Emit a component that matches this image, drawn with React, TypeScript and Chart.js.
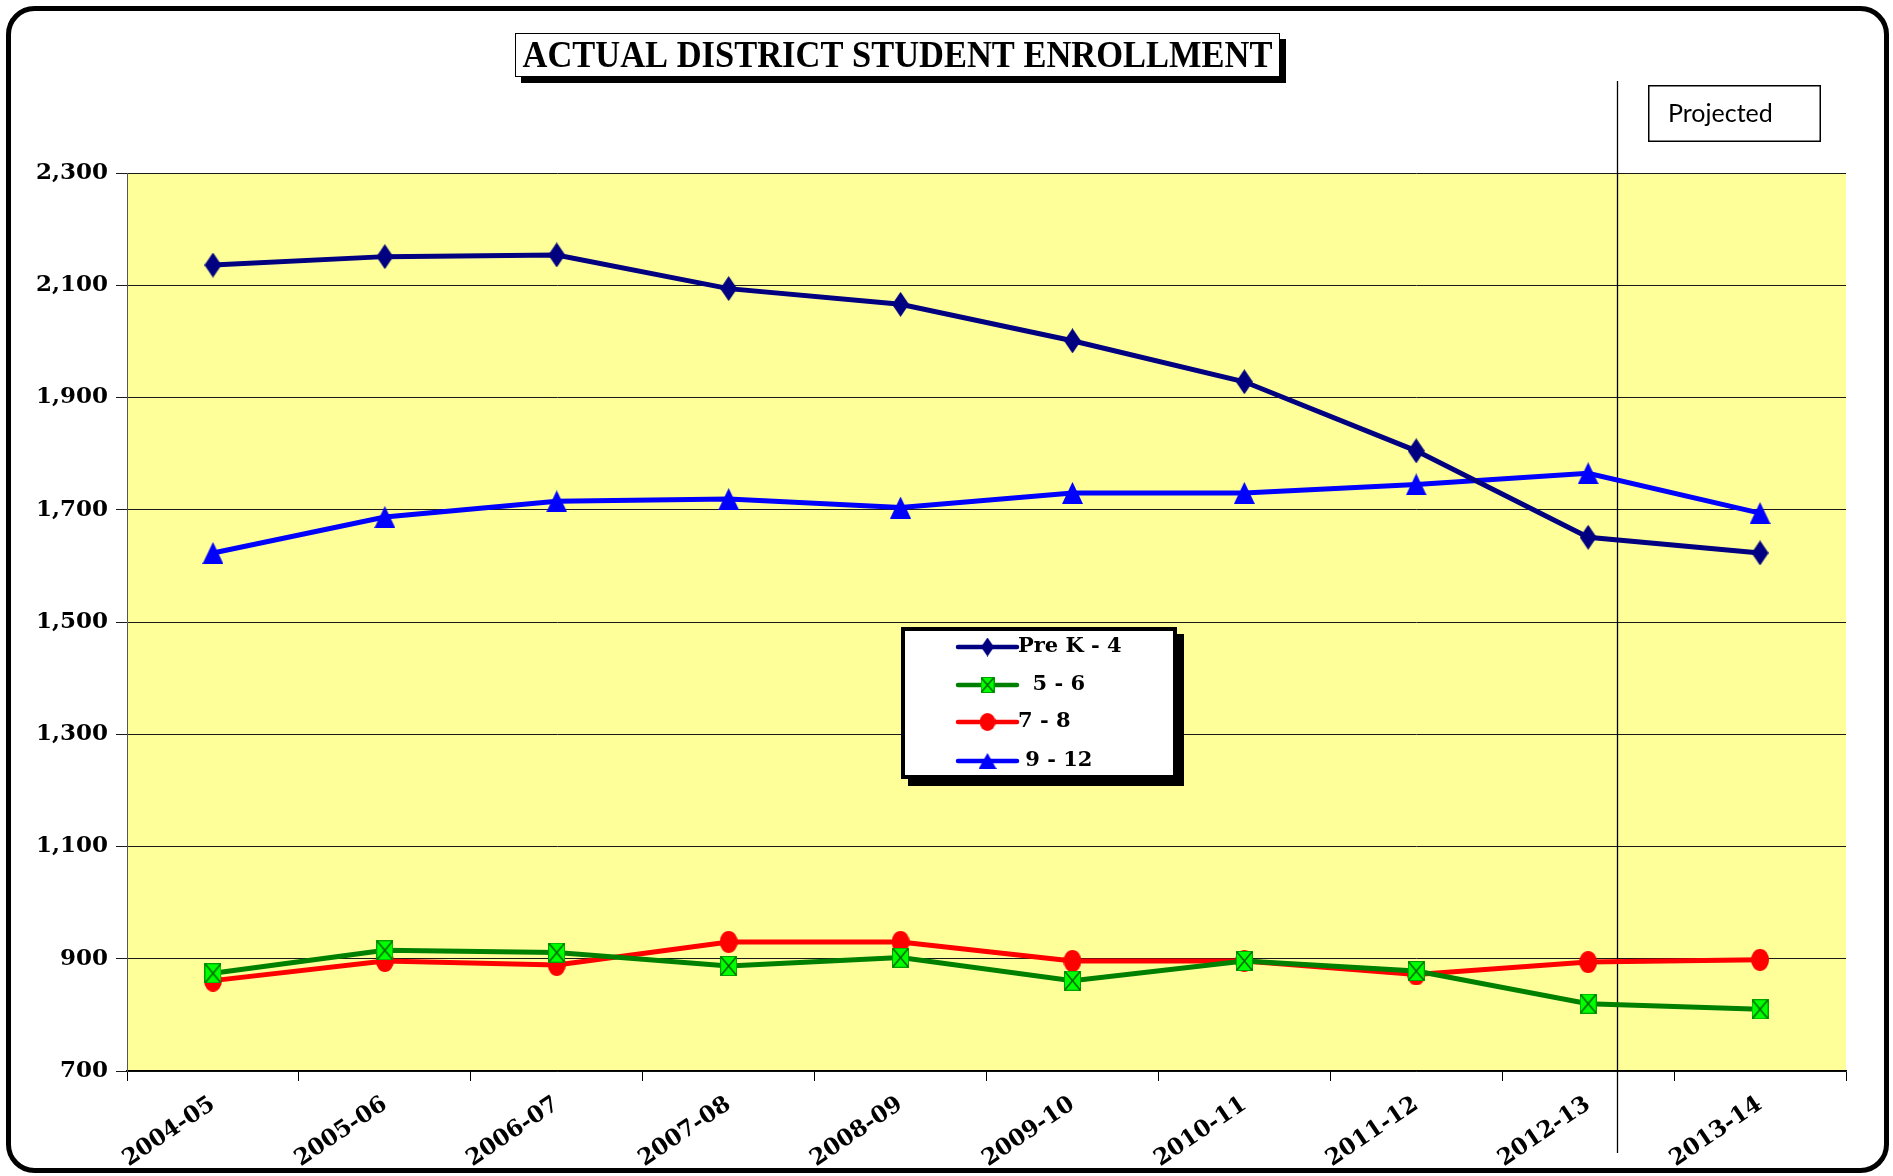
import React, { useEffect, useRef } from 'react';
import { Chart, registerables } from 'chart.js';
Chart.register(...registerables);

const categories = ['2004-05', '2005-06', '2006-07', '2007-08', '2008-09', '2009-10', '2010-11', '2011-12', '2012-13', '2013-14'];
const preK4 = [2136, 2151, 2154, 2094, 2066, 2001, 1928, 1805, 1651, 1623];
const grade56 = [874, 915, 911, 887, 902, 861, 896, 878, 820, 810];
const grade78 = [861, 896, 889, 930, 930, 896, 896, 872, 894, 898];
const grade912 = [1623, 1687, 1715, 1719, 1704, 1730, 1730, 1745, 1765, 1694];
const seriesNames = ['Pre K - 4', '  5 - 6', '7 - 8', ' 9 - 12'];
const yMin = 700;
const yMax = 2300;
const yStep = 200;
const titleText = 'ACTUAL DISTRICT STUDENT ENROLLMENT';
const projectedText = 'Projected';
const projectedStartIndex = 8; // line drawn just after 2012-13
const projectedOffset = 0.165;

function mk(w: number, h: number, draw: (c: CanvasRenderingContext2D) => void) {
  const c = document.createElement('canvas');
  c.width = w;
  c.height = h;
  const ctx = c.getContext('2d')!;
  draw(ctx);
  return c;
}

function diamond(w: number, h: number, color: string) {
  return mk(w, h, (c) => {
    c.fillStyle = color;
    c.beginPath();
    c.moveTo(w / 2, 0);
    c.lineTo(w, h / 2);
    c.lineTo(w / 2, h);
    c.lineTo(0, h / 2);
    c.closePath();
    c.fill();
  });
}
function ellipse(w: number, h: number, color: string) {
  return mk(w, h, (c) => {
    c.fillStyle = color;
    c.beginPath();
    c.ellipse(w / 2, h / 2, w / 2, h / 2, 0, 0, Math.PI * 2);
    c.fill();
  });
}
function triangle(w: number, h: number, color: string) {
  return mk(w, h, (c) => {
    c.fillStyle = color;
    c.beginPath();
    c.moveTo(w / 2, 0);
    c.lineTo(w, h);
    c.lineTo(0, h);
    c.closePath();
    c.fill();
  });
}
function xSquare(w: number, h: number) {
  return mk(w, h, (c) => {
    c.fillStyle = '#00FF00';
    c.fillRect(0, 0, w, h);
    c.strokeStyle = '#00A000';
    c.lineWidth = 1;
    c.strokeRect(0.5, 0.5, w - 1, h - 1);
    c.strokeStyle = '#006000';
    c.lineWidth = 1.4;
    c.beginPath();
    c.moveTo(1, 1);
    c.lineTo(w - 1, h - 1);
    c.moveTo(w - 1, 1);
    c.lineTo(1, h - 1);
    c.stroke();
  });
}

export default function App() {
  const ref = useRef<HTMLCanvasElement>(null);
  useEffect(() => {
    if (!ref.current) return;
    const markers = [
      diamond(17, 25, '#000080'),
      xSquare(17, 20),
      ellipse(18, 22, '#FF0000'),
      triangle(21, 22, '#0000FF'),
    ];
    const legendMarkers = [
      diamond(13, 19, '#000080'),
      xSquare(14, 16),
      ellipse(16, 18, '#FF0000'),
      triangle(18, 16, '#0000FF'),
    ];
    const colors = ['#000080', '#008000', '#FF0000', '#0000FF'];
    const values = [preK4, grade56, grade78, grade912];

    const decor = {
      id: 'decor',
      beforeDraw(chart: any) {
        const { ctx, chartArea } = chart;
        ctx.save();
        ctx.fillStyle = '#fff';
        ctx.fillRect(0, 0, chart.width, chart.height);
        ctx.strokeStyle = '#000';
        ctx.lineWidth = 5;
        ctx.beginPath();
        ctx.roundRect(8.5, 8.5, chart.width - 15, chart.height - 14, 26);
        ctx.stroke();
        ctx.fillStyle = '#FFFF99';
        ctx.fillRect(chartArea.left, chartArea.top, chartArea.right - chartArea.left, chartArea.bottom - chartArea.top);
        ctx.restore();
      },
      beforeDatasetsDraw(chart: any) {
        const { ctx } = chart;
        const xs = chart.scales.x;
        const a = xs.getPixelForValue(projectedStartIndex);
        const b = xs.getPixelForValue(projectedStartIndex + 1);
        const x = Math.round(a + (b - a) * projectedOffset) + 0.5;
        ctx.save();
        ctx.strokeStyle = '#000';
        ctx.lineWidth = 1.3;
        ctx.beginPath();
        ctx.moveTo(x, 81);
        ctx.lineTo(x, 1153);
        ctx.stroke();
        ctx.restore();
      },
      afterDraw(chart: any) {
        const { ctx } = chart;
        ctx.save();
        // Title box
        const tx = 515, ty = 33, tw = 765, th = 44;
        ctx.fillStyle = '#000';
        ctx.fillRect(tx + 6, ty + 6, tw, th);
        ctx.fillStyle = '#fff';
        ctx.fillRect(tx, ty, tw, th);
        ctx.strokeStyle = '#000';
        ctx.lineWidth = 1;
        ctx.strokeRect(tx + 0.5, ty + 0.5, tw - 1, th - 1);
        ctx.font = 'bold 37px "Liberation Serif"';
        ctx.textBaseline = 'middle';
        ctx.textAlign = 'left';
        const mw = ctx.measureText(titleText).width;
        const target = 750;
        ctx.save();
        ctx.translate(tx + (tw - target) / 2, ty + th / 2 + 2);
        ctx.scale(target / mw, 1);
        ctx.fillStyle = '#000';
        ctx.fillText(titleText, 0, 0);
        ctx.restore();

        // Projected box
        const px = 1648, py = 85, pw = 173, ph = 57;
        ctx.fillStyle = '#fff';
        ctx.fillRect(px, py, pw, ph);
        ctx.strokeStyle = '#000';
        ctx.lineWidth = 1.5;
        ctx.strokeRect(px + 0.75, py + 0.75, pw - 1.5, ph - 1.5);
        ctx.fillStyle = '#000';
        ctx.font = '25px Lato';
        ctx.textBaseline = 'middle';
        ctx.fillText(projectedText, 1668, py + ph / 2);

        // Legend
        const lx = 901, ly = 627, lw = 276, lh = 152;
        ctx.fillStyle = '#000';
        ctx.fillRect(lx + 7, ly + 7, lw, lh);
        ctx.fillRect(lx, ly, lw, lh);
        ctx.fillStyle = '#fff';
        ctx.fillRect(lx + 4, ly + 4, lw - 8, lh - 8);
        const rows = [647, 685, 722, 761];
        chart.data.datasets.forEach((ds: any, i: number) => {
          const y = rows[i];
          ctx.strokeStyle = ds.borderColor;
          ctx.lineWidth = 4.5;
          ctx.lineCap = 'round';
          ctx.beginPath();
          ctx.moveTo(958, y);
          ctx.lineTo(1017, y);
          ctx.stroke();
          const m = legendMarkers[i];
          ctx.drawImage(m, 987.5 - m.width / 2, y - m.height / 2);
          ctx.fillStyle = '#000';
          ctx.font = 'bold 21px "DejaVu Serif"';
          ctx.textBaseline = 'middle';
          ctx.textAlign = 'left';
          ctx.fillText(ds.label, 1018, y);
        });
        ctx.restore();
      },
    };

    const chart = new Chart(ref.current, {
      type: 'line',
      data: {
        labels: categories,
        datasets: values.map((v, i) => ({
          label: seriesNames[i],
          data: v,
          borderColor: colors[i],
          backgroundColor: colors[i],
          borderWidth: 5,
          pointStyle: markers[i] as any,
          pointRadius: 11,
          tension: 0,
          fill: false,
        })),
      },
      options: {
        responsive: false,
        animation: false,
        layout: { padding: { left: 0, top: 173, right: 47, bottom: 0 } },
        plugins: {
          legend: { display: false },
          title: { display: false },
          tooltip: { enabled: false },
        },
        scales: {
          x: {
            type: 'category',
            offset: true,
            grid: { offset: true, drawOnChartArea: false, drawTicks: true, tickLength: 10, color: '#000', lineWidth: 1 },
            border: { color: '#000', width: 1.5 },
            ticks: {
              autoSkip: false,
              maxRotation: 34,
              minRotation: 34,
              padding: 10,
              color: '#000',
              font: { family: '"DejaVu Serif"', weight: 'bold', size: 23 },
            },
            afterFit(scale: any) {
              scale.height = 105;
            },
          },
          y: {
            min: yMin,
            max: yMax,
            grid: { color: '#1a1a1a', lineWidth: 1, tickLength: 11 },
            border: { color: '#555', width: 1 },
            ticks: {
              stepSize: yStep,
              padding: 8,
              color: '#000',
              font: { family: '"DejaVu Serif"', weight: 'bold', size: 23 },
              callback: (v: any) => Number(v).toLocaleString('en-US'),
            },
            afterFit(scale: any) {
              scale.width = 127;
            },
          },
        },
      },
      plugins: [decor],
    } as any);
    return () => chart.destroy();
  }, []);
  return (
    <div style={{ position: 'absolute', left: 0, top: 0, width: 1893, height: 1176 }}>
      <canvas ref={ref} width={1893} height={1176} style={{ width: 1893, height: 1176, display: 'block' }} />
    </div>
  );
}
